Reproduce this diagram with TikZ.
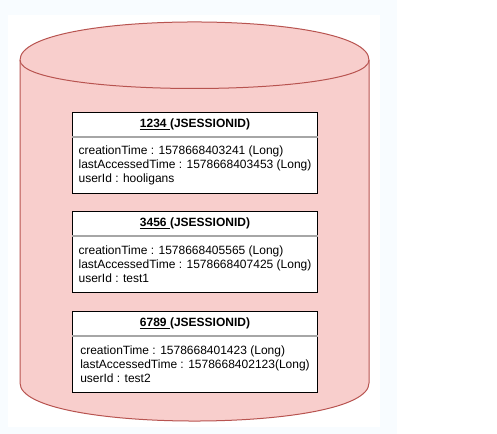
\documentclass[tikz,border=0pt]{standalone}
\usepackage{fontspec}
\setmainfont{Liberation Sans}
\usetikzlibrary{positioning}

\definecolor{cylfill}{HTML}{F8CECC}
\definecolor{cyldraw}{HTML}{B85450}
\definecolor{bgtint}{HTML}{F8FCFF}

\begin{document}
\begin{tikzpicture}[x=0.75pt, y=-0.75pt, line width=0.75pt,
    hdr/.style={draw, fill=white, minimum width=183.75pt, minimum height=18pt,
        inner sep=0pt, font=\bfseries\fontsize{9}{10.5}\selectfont},
    attrs/.style={draw, fill=white, minimum width=183.75pt, minimum height=42pt,
        inner sep=0pt, align=left, font=\fontsize{9}{10.5}\selectfont},
    sepline/.style={gray!70, line width=0.9pt}]

    \useasboundingbox (0,0) rectangle (497,434);
    \fill[bgtint] (0,0) rectangle (397,434);
    \fill[white] (8,15) rectangle (380,427);

    % cylinder (session store)
    \filldraw[fill=cylfill, draw=cyldraw]
        (20,60) .. controls (20,9.3) and (369,9.3) .. (369,60)
        -- (369,383) .. controls (369,433.7) and (20,433.7) .. (20,383) -- cycle;
    \draw[cyldraw] (20,60) .. controls (20,98) and (369,98) .. (369,60);

    % sessions
    \node[hdr, anchor=north west] (hdr1) at (72,112) {\underline{1234\ }(JSESSIONID)};
    \node[attrs, below=0pt of hdr1] (body1) {creationTime : 1578668403241 (Long)\\
        lastAccessedTime : 1578668403453 (Long)\\ userId : hooligans};
    \draw[sepline] (hdr1.south west) -- (hdr1.south east);

    \node[hdr, anchor=north west] (hdr2) at (72,211) {\underline{3456\ }(JSESSIONID)};
    \node[attrs, below=0pt of hdr2] (body2) {creationTime : 1578668405565 (Long)\\
        lastAccessedTime : 1578668407425 (Long)\\ userId : test1};
    \draw[sepline] (hdr2.south west) -- (hdr2.south east);

    \node[hdr, anchor=north west] (hdr3) at (72,311) {\underline{6789\ }(JSESSIONID)};
    \node[attrs, below=0pt of hdr3] (body3) {creationTime : 1578668401423 (Long)\\
        lastAccessedTime : 1578668402123(Long)\\ userId : test2};
    \draw[sepline] (hdr3.south west) -- (hdr3.south east);
\end{tikzpicture}
\end{document}
